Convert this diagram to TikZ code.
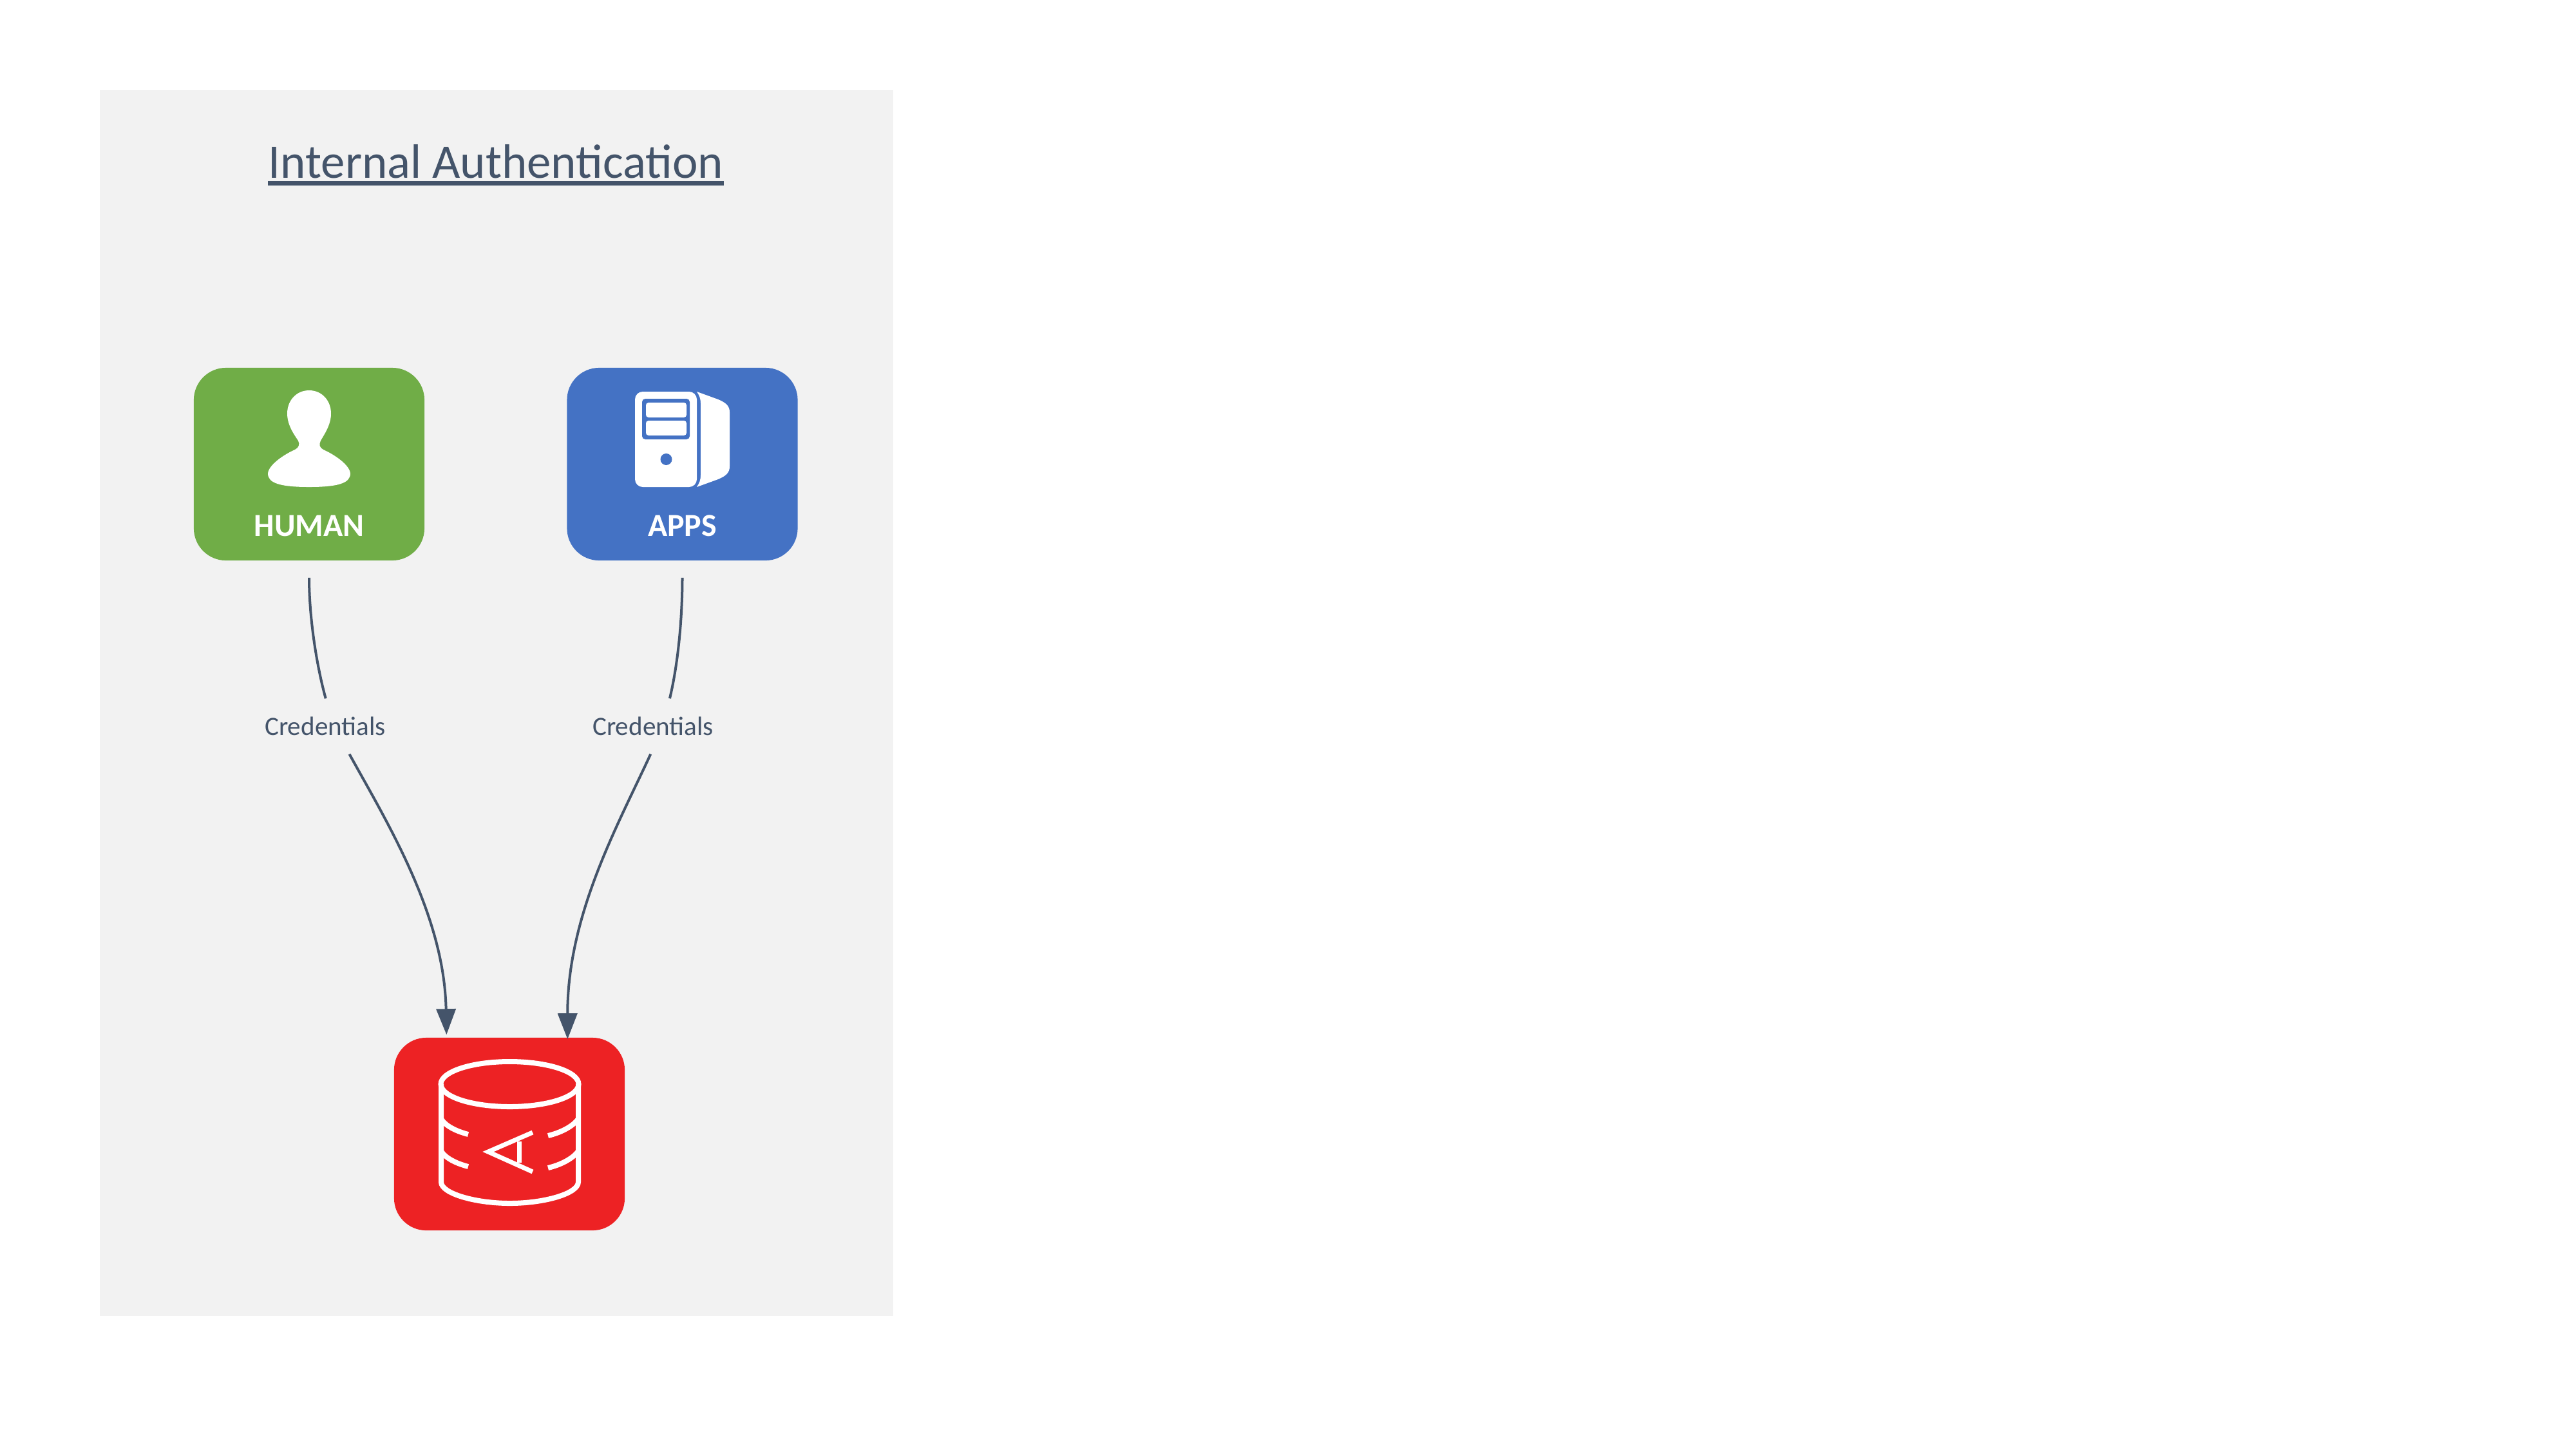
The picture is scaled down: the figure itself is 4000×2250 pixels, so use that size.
\documentclass[tikz,border=0pt]{standalone}
\usepackage{fontspec}
\setmainfont{Carlito}
\usepackage{xcolor}
\usetikzlibrary{calc,arrows.meta}
\definecolor{panelgray}{HTML}{F2F2F2}
\definecolor{inkslate}{HTML}{44546A}
\definecolor{humangreen}{HTML}{70AD47}
\definecolor{appsblue}{HTML}{4472C4}
\definecolor{dbred}{HTML}{ED2224}
\tikzset{
  cardbox/.style={rectangle,rounded corners=0.5cm,minimum width=3.58cm,minimum height=2.99cm,inner sep=0pt},
  cardtext/.style={text=white,font=\fontsize{14.2pt}{16pt}\selectfont\bfseries,anchor=base,inner sep=0pt},
  credtext/.style={text=inkslate,font=\fontsize{11.7pt}{14pt}\selectfont,minimum width=1.88cm,minimum height=0.85cm,inner sep=0pt},
  link/.style={draw=inkslate,line width=0.04cm},
  dbline/.style={draw=white,line width=0.08cm}
}
\begin{document}
\begin{tikzpicture}[x=0.01cm,y=-0.01cm,>={Triangle[length=0.4cm,width=0.3cm]}]
\useasboundingbox (0,0) rectangle (4000,2250);
%panel
\fill[panelgray] (155,140) rectangle (1387,2043);
%title
\node[text=inkslate,font=\fontsize{21.3pt}{25pt}\selectfont,anchor=base,inner sep=0pt] (title) at (770,276) {Internal Authentication};
\draw[inkslate,line width=0.07cm] ($(title.base west)+(0,8.5)$) -- ($(title.base east)+(0,8.5)$);
%boxes
\node[cardbox,fill=humangreen] (human) at (480,720.5) {};
\node[cardbox,fill=appsblue] (apps) at (1059.5,720.5) {};
\node[cardbox,fill=dbred] (db) at (791,1760.5) {};
\node[cardtext] (humantext) at (480,832.5) {HUMAN};
\node[cardtext] (appstext) at (1059.5,832.5) {APPS};
%person
\fill[white] (480,606) .. controls (460,606) and (446,622) .. (446,642)
  .. controls (446,660) and (457,675) .. (463,684)
  .. controls (466,690) and (464,695) .. (458,698)
  .. controls (440,706) and (417,722) .. (416,735)
  .. controls (416,750) and (435,756) .. (480,756)
  .. controls (525,756) and (544,750) .. (544,735)
  .. controls (543,722) and (520,706) .. (502,698)
  .. controls (496,695) and (495,690) .. (498,684)
  .. controls (503,675) and (514,660) .. (514,642)
  .. controls (514,622) and (500,606) .. (480,606) -- cycle;
%server
\fill[white,rounded corners=0.12cm] (986,608) rectangle (1082,756);
\fill[appsblue,rounded corners=0.05cm] (997,619) rectangle (1071,682);
\fill[white,rounded corners=0.04cm] (1003,625) rectangle (1066,648);
\fill[white,rounded corners=0.04cm] (1003,653) rectangle (1066,676);
\fill[appsblue] (1034.5,713) circle (9);
\fill[white] (1082,608) -- (1115,620) .. controls (1127,625) and (1133,630) .. (1133,640)
  -- (1133,724) .. controls (1133,734) and (1127,739) .. (1115,744) -- (1082,756)
  .. controls (1086,750) and (1088,745) .. (1088,738) -- (1088,626)
  .. controls (1088,619) and (1086,614) .. (1082,608) -- cycle;
%database
\draw[dbline] (791.5,1683) ellipse [x radius=107,y radius=35];
\draw[dbline] (685,1683) -- (685,1835) .. controls (685,1853) and (739,1868) .. (791.5,1868)
  .. controls (845,1868) and (898,1853) .. (898,1835) -- (898,1683);
\foreach \y in {1737,1787} {
\draw[dbline] (685,\y) .. controls (692,\y+11) and (708,\y+19) .. (727,\y+24);
\draw[dbline] (898,\y) .. controls (890,\y+11) and (872,\y+21) .. (851,\y+26);
}
\draw[draw=white,line width=0.07cm] (827,1758) -- (758,1788) -- (827,1819);
\draw[draw=white,line width=0.07cm] (806,1772) -- (806,1805);
%connectors
\node[credtext] (credleft) at (505,1127.5) {Credentials};
\node[credtext] (credright) at (1014,1127.5) {Credentials};
\draw[link,shorten <=0.26cm] (human.south) .. controls (480,960) and (492,1035) .. (credleft.89);
\draw[link,shorten <=0.26cm] (apps.south) .. controls (1059.5,960) and (1053,1030) .. (credright.59);
\draw[link,->,shorten >=0.04cm] (credleft.-49.4) .. controls (600,1275) and (690,1420) .. (db.123);
\draw[link,->,shorten >=-0.03cm] (credright.-95) .. controls (960,1280) and (881,1420) .. (db.59);
\end{tikzpicture}
\end{document}
